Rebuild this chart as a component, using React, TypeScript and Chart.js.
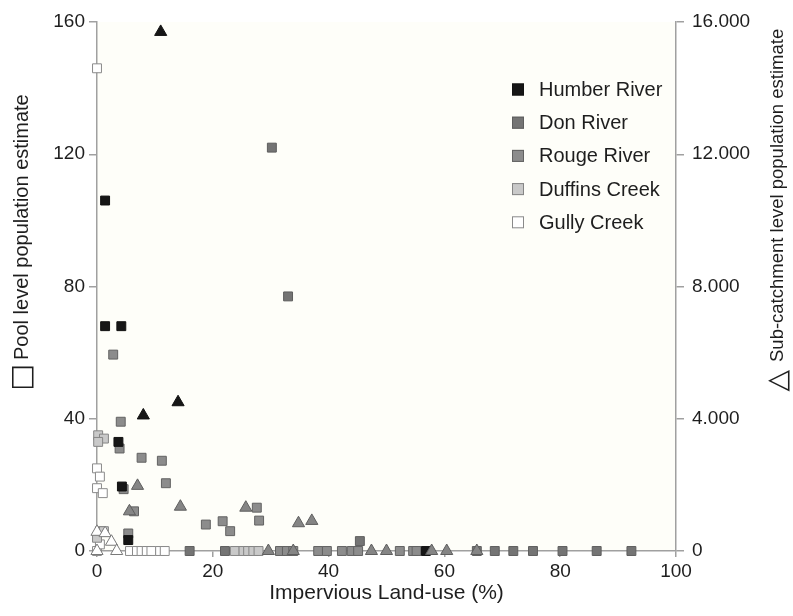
import React, { useEffect, useRef } from 'react';
import { Chart, registerables } from 'chart.js';

Chart.register(...registerables);

// ---------- axis ticks ----------
const xTicks = [0, 20, 40, 60, 80, 100];
const poolTicks = [0, 40, 80, 120, 160];
const subTicks = [0, 4000, 8000, 12000, 16000];

// ---------- legend / series names ----------
const riverNames = ['Humber River', 'Don River', 'Rouge River', 'Duffins Creek', 'Gully Creek'];

// ---------- pool level estimates (squares, left axis) [impervious %, estimate] ----------
const humberPool = [[1.4, 106], [1.4, 68], [4.2, 68], [3.7, 33], [4.3, 19.5], [5.4, 3.3], [56.8, 0]];
const donPool = [[30.2, 122], [33, 77], [45.4, 3], [16, 0], [22.1, 0], [65.6, 0], [68.7, 0], [71.9, 0], [75.3, 0], [80.4, 0], [86.3, 0], [92.3, 0]];
const rougePool = [
  [2.8, 59.4], [4.1, 39.1], [3.9, 31], [7.7, 28.2], [11.2, 27.3], [11.9, 20.5], [4.6, 18.7], [6.4, 12],
  [5.4, 5.3], [18.8, 8], [21.7, 9], [23, 6], [27.6, 13.1], [28, 9.2],
  [31.6, 0], [32.8, 0], [33.9, 0], [38.2, 0], [39.7, 0], [42.3, 0], [44, 0], [45.1, 0], [52.3, 0], [54.6, 0], [55.2, 0],
];
const duffinsPool = [[0.2, 35], [1.2, 34], [0.2, 33], [0.5, 6], [1.2, 6], [0, 4], [23.8, 0], [25.3, 0], [26.1, 0], [27, 0], [27.9, 0]];
const gullyPool = [[0, 146], [0, 25], [0.5, 22.5], [0, 19], [1, 17.5], [0, 0], [0.5, 2], [5.7, 0], [6.9, 0], [7.7, 0], [8.6, 0], [9.4, 0], [10.9, 0], [11.7, 0]];

// ---------- sub-catchment estimates (triangles, right axis) ----------
const humberSub = [[11, 15700], [8, 4100], [14, 4500]];
const donRougeSub = [[7, 1970], [5.6, 1200], [14.4, 1340], [25.7, 1310], [34.8, 840], [37.1, 910], [29.6, 0], [33.9, 0], [47.4, 0], [50, 0], [57.8, 0], [60.4, 0], [65.6, 0]];
const creekSub = [[0, 580], [1.4, 540], [2.5, 280], [3.4, 0], [0, 0]];

const FONT = "'Liberation Sans', Arial, Helvetica, sans-serif";
const AXIS_GREY = '#a0a0a0';
const TEXT = '#1e1e1e';

const fills = ['#161616', '#747474', '#8c8c8c', '#c9c9c9', '#ffffff'];
const borders = ['#111111', '#5e5e5e', '#626262', '#858585', '#8a8a8a'];

const toPts = (arr: number[][]) => arr.map(([x, y]) => ({ x, y }));

const decorPlugin = {
  id: 'decor',
  beforeDraw(chart: any) {
    const { ctx, chartArea } = chart;
    ctx.save();
    ctx.fillStyle = '#fefef9';
    ctx.fillRect(chartArea.left, chartArea.top, chartArea.right - chartArea.left, chartArea.bottom - chartArea.top);
    ctx.restore();
  },
  afterDraw(chart: any) {
    const { ctx, chartArea } = chart;
    ctx.save();
    // legend
    const mx = chartArea.right - 158;
    const tx = chartArea.right - 137;
    riverNames.forEach((name, i) => {
      const cy = chartArea.top + 67.5 + i * 33.2;
      ctx.fillStyle = fills[i];
      ctx.strokeStyle = borders[i];
      ctx.lineWidth = 1;
      ctx.fillRect(mx - 6, cy - 6, 12, 12);
      ctx.strokeRect(mx - 5.5, cy - 5.5, 11, 11);
      ctx.fillStyle = TEXT;
      ctx.font = `20px ${FONT}`;
      ctx.textAlign = 'left';
      ctx.textBaseline = 'middle';
      ctx.fillText(name, tx, cy + 1);
    });

    // left axis title
    ctx.save();
    ctx.translate(22, 360);
    ctx.rotate(-Math.PI / 2);
    ctx.fillStyle = TEXT;
    ctx.textBaseline = 'middle';
    ctx.textAlign = 'left';
    ctx.font = `20px ${FONT}`;
    ctx.fillText('Pool level population estimate', 0, 0);
    ctx.textAlign = 'right';
    ctx.font = `28px 'DejaVu Sans', sans-serif`;
    ctx.fillText('□', -4, 1);
    ctx.restore();

    // right axis title
    ctx.save();
    ctx.translate(778, 362);
    ctx.rotate(-Math.PI / 2);
    ctx.fillStyle = TEXT;
    ctx.textBaseline = 'middle';
    ctx.textAlign = 'left';
    ctx.font = `18.5px ${FONT}`;
    ctx.fillText('Sub-catchment level population estimate', 0, 0);
    ctx.textAlign = 'right';
    ctx.font = `28px 'DejaVu Sans', sans-serif`;
    ctx.fillText('△', -8, 1);
    ctx.restore();

    ctx.restore();
  },
};

export default function App() {
  const ref = useRef<HTMLCanvasElement>(null);

  useEffect(() => {
    if (!ref.current) return;
    const squareDs = [humberPool, donPool, rougePool, duffinsPool, gullyPool].map((d, i) => ({
      label: riverNames[i],
      data: toPts(d),
      yAxisID: 'y',
      pointStyle: 'rect',
      pointRadius: 6.3,
      pointBackgroundColor: fills[i],
      pointBorderColor: borders[i],
      pointBorderWidth: 1,
      showLine: false,
      clip: false,
    }));
    const triDefs = [
      { label: 'Humber River (sub-catchment)', data: humberSub, fill: '#161616', border: '#111111' },
      { label: 'Don / Rouge River (sub-catchment)', data: donRougeSub, fill: '#858585', border: '#5e5e5e' },
      { label: 'Duffins / Gully Creek (sub-catchment)', data: creekSub, fill: '#ffffff', border: '#7a7a7a' },
    ];
    const triDs = triDefs.map((t) => ({
      label: t.label,
      data: toPts(t.data),
      yAxisID: 'y2',
      pointStyle: 'triangle',
      pointRadius: 7,
      pointBackgroundColor: t.fill,
      pointBorderColor: t.border,
      pointBorderWidth: 1,
      showLine: false,
      clip: false,
    }));

    const tickFont = { family: FONT, size: 19 };
    const chart = new Chart(ref.current, {
      type: 'scatter',
      data: { datasets: [...triDs, ...squareDs] as any },
      options: {
        animation: false,
        responsive: false,
        layout: { padding: { top: 22, left: 0, right: 0, bottom: 0 } },
        plugins: { legend: { display: false }, tooltip: { enabled: false } },
        scales: {
          x: {
            type: 'linear',
            min: 0,
            max: 100,
            afterBuildTicks: (s: any) => { s.ticks = xTicks.map((v) => ({ value: v })); },
            afterFit: (s: any) => { s.height = 65; },
            border: { color: AXIS_GREY, width: 1.5 },
            grid: { drawOnChartArea: false, tickLength: 6, color: AXIS_GREY, lineWidth: 1.5 },
            ticks: { color: TEXT, font: tickFont, padding: 3, maxRotation: 0 },
            title: { display: true, text: 'Impervious Land-use (%)', color: TEXT, font: { family: FONT, size: 21 }, padding: { top: 0, bottom: 10 } },
          },
          y: {
            type: 'linear',
            position: 'left',
            min: 0,
            max: 160,
            afterBuildTicks: (s: any) => { s.ticks = poolTicks.map((v) => ({ value: v })); },
            afterFit: (s: any) => { s.width = 97; },
            border: { color: AXIS_GREY, width: 1.5 },
            grid: { drawOnChartArea: false, tickLength: 8, color: AXIS_GREY, lineWidth: 1.5 },
            ticks: { color: TEXT, font: tickFont, padding: 4 },
          },
          y2: {
            type: 'linear',
            position: 'right',
            min: 0,
            max: 16000,
            afterBuildTicks: (s: any) => { s.ticks = subTicks.map((v) => ({ value: v })); },
            afterFit: (s: any) => { s.width = 117; },
            border: { color: AXIS_GREY, width: 1.5 },
            grid: { drawOnChartArea: false, tickLength: 8, color: AXIS_GREY, lineWidth: 1.5 },
            ticks: {
              color: TEXT,
              font: tickFont,
              padding: 8,
              callback: (v: any) => (Number(v) === 0 ? '0' : (Number(v) / 1000).toFixed(3)),
            },
          },
        },
      },
      plugins: [decorPlugin],
    });
    return () => chart.destroy();
  }, []);

  return (
    <div style={{ position: 'fixed', left: 0, top: 0, width: 793, height: 616, background: '#ffffff' }}>
      <canvas ref={ref} width={793} height={616} style={{ display: 'block' }} />
    </div>
  );
}
